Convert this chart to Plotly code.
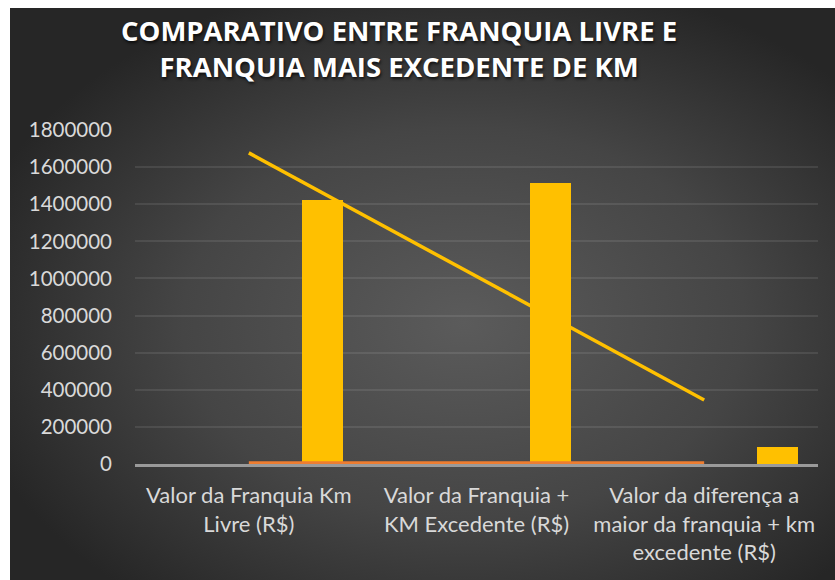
import base64
import numpy as np
import plotly.graph_objects as go

categories = [
    "Valor da Franquia Km<br>Livre (R$)",
    "Valor da Franquia +<br>KM Excedente (R$)",
    "Valor da diferença a<br>maior da franquia + km<br>excedente (R$)",
]
bar_values = [1424000, 1516500, 92500]
base_values = [5000, 5000, 5000]
y_ticks = [0, 200000, 400000, 600000, 800000, 1000000, 1200000, 1400000, 1600000, 1800000]
title_text = "COMPARATIVO ENTRE FRANQUIA LIVRE E<br>FRANQUIA MAIS EXCEDENTE DE KM"

# linear trendline of the bar series (as Excel's trendline)
xi = np.arange(1, len(bar_values) + 1)
slope, intercept = np.polyfit(xi, bar_values, 1)
trend_values = list(slope * xi + intercept)

W, H = 835, 580
L, R, T, B = 135, 17, 130, 116
pw, ph = W - L - R, H - T - B

svg = f'''<svg xmlns="http://www.w3.org/2000/svg" width="825" height="572" viewBox="0 0 825 572" preserveAspectRatio="none">
<defs><radialGradient id="g" cx="0.55" cy="0.55" r="0.62" fx="0.55" fy="0.55">
<stop offset="0" stop-color="#5b5b5b"/><stop offset="0.55" stop-color="#454545"/><stop offset="1" stop-color="#262626"/>
</radialGradient></defs><rect width="825" height="572" fill="url(#g)"/></svg>'''
src = "data:image/svg+xml;base64," + base64.b64encode(svg.encode()).decode()

fig = go.Figure()
fig.add_trace(go.Bar(
    x=categories, y=bar_values, offset=0.234, width=0.18,
    marker=dict(color="#FFC000", line=dict(width=0)), showlegend=False,
))
fig.add_trace(go.Scatter(
    x=categories, y=base_values, mode="lines",
    line=dict(color="#ED7D31", width=3.5), showlegend=False,
))
fig.add_trace(go.Scatter(
    x=categories, y=trend_values, mode="lines",
    line=dict(color="#FFC000", width=3.5), showlegend=False,
))

fig.update_layout(
    width=W, height=H,
    margin=dict(l=L, r=R, t=T, b=B, autoexpand=False),
    paper_bgcolor="white", plot_bgcolor="rgba(0,0,0,0)",
    images=[dict(source=src, xref="paper", yref="paper",
                 x=(10 - L) / pw, y=(H - B - 8) / ph,
                 sizex=825 / pw, sizey=572 / ph,
                 xanchor="left", yanchor="top", sizing="stretch", layer="below")],
    annotations=[dict(text=title_text, xref="paper", yref="paper",
                      x=(399 - L) / pw, xanchor="center",
                      y=(H - B - 10) / ph, yanchor="top", showarrow=False,
                      font=dict(family="Open Sans", size=27.5, color="white", weight="bold",
                                shadow="1px 2px 3px rgba(0,0,0,0.7)"))],
    font=dict(family="Lato", color="#d9d9d9", size=21),
    yaxis=dict(range=[0, 1800000], tickvals=y_ticks, ticktext=[str(v) for v in y_ticks],
               showgrid=True, gridcolor="rgba(255,255,255,0.09)", gridwidth=1.5,
               zeroline=False, showline=False, ticks="", ticklabelstandoff=22,
               automargin=False,
               tickfont=dict(family="Lato", size=20.5, color="#d9d9d9")),
    xaxis=dict(showline=True, linecolor="#9a9a9a", linewidth=2.5, ticks="",
               showgrid=False, ticklabelstandoff=10, automargin=False,
               layer="below traces",
               tickfont=dict(family="Lato", size=22, color="#d9d9d9")),
    bargap=0,
)

fig.write_html("out.html", config={"displayModeBar": False},
               post_script="document.body.style.margin='0';")
